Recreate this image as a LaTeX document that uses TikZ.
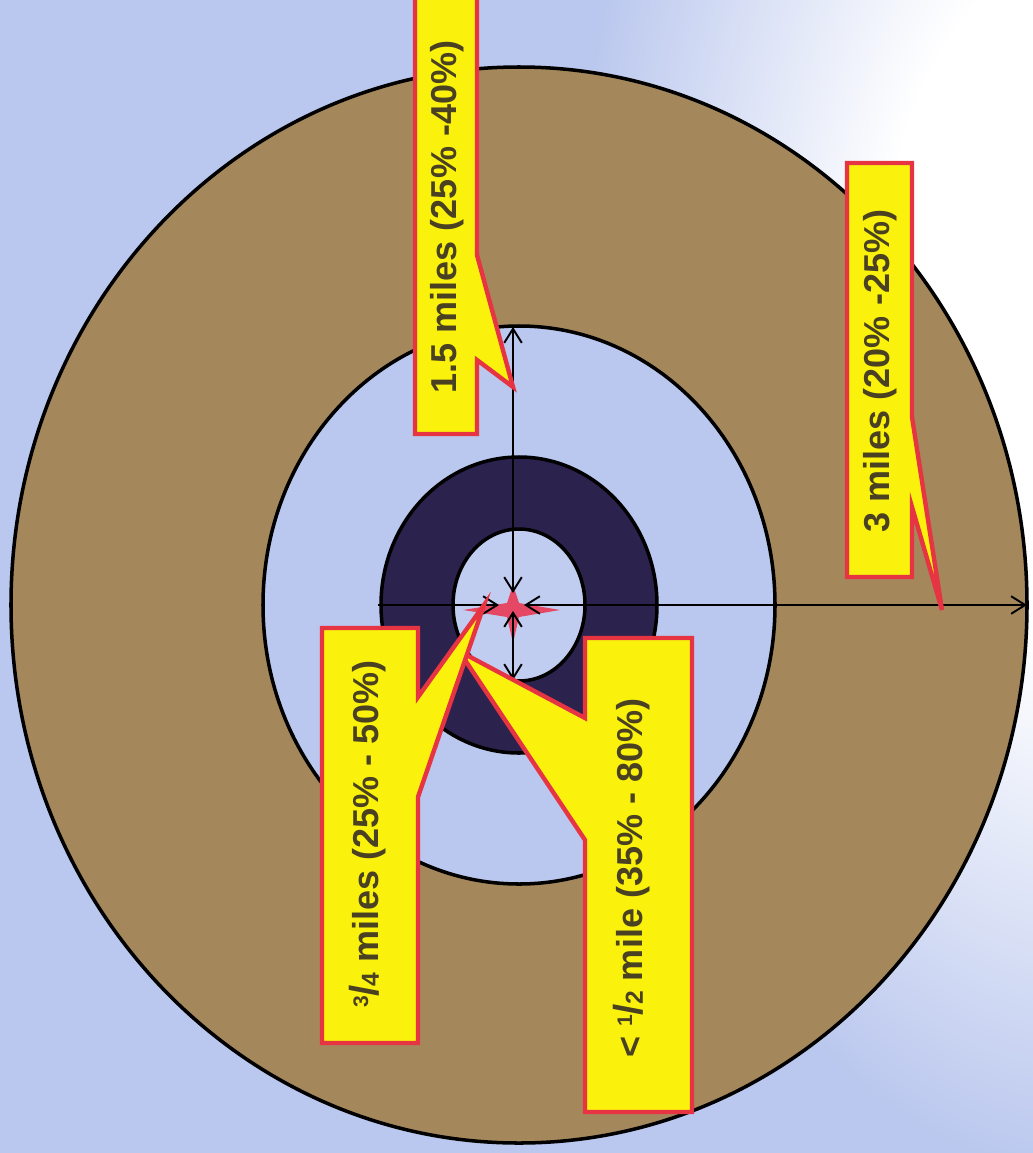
\documentclass[tikz,border=0pt]{standalone}
\usepackage{fontspec}
\setmainfont{Liberation Sans}
\usetikzlibrary{arrows.meta}

\definecolor{bgblue}{RGB}{186,199,238}
\definecolor{ringbrown}{RGB}{165,135,92}
\definecolor{ringnavy}{RGB}{44,34,78}
\definecolor{tagyellow}{RGB}{250,242,12}
\definecolor{tagred}{RGB}{230,52,66}
\definecolor{starred}{RGB}{228,72,100}
\definecolor{tagtext}{RGB}{74,64,34}

\pgfdeclareradialshading{glow}{\pgfpointorigin}{color(0bp)=(white); color(10bp)=(white); color(25bp)=(bgblue); color(50bp)=(bgblue)}

\newcommand\tagfrac[2]{\raisebox{0.3em}{\fontsize{12}{12}\selectfont #1}\kern-0.02em{\fontsize{23}{23}\selectfont/}\kern-0.02em{\fontsize{14}{14}\selectfont #2}}

\tikzset{
  ring/.style={draw=black,line width=2pt},
  tag/.style={fill=tagyellow,draw=tagred,line width=2.5pt,line join=miter},
  taglabel/.style={rotate=90,inner sep=0pt,text=tagtext,
    font=\bfseries\fontsize{20.5}{24}\selectfont}
}

\begin{document}
\begin{tikzpicture}[x=0.02cm,y=-0.02cm,>={Straight Barb[length=8pt,width=10pt]}]
\useasboundingbox (0,0) rectangle (1033,1153);
\fill[bgblue] (0,0) rectangle (1033,1153);
\begin{scope}
\clip (0,0) rectangle (1033,1153);
\shade[shading=glow] (1090,300) ellipse (520 and 880);
\end{scope}

\coordinate (mid) at (519,605);
\coordinate (c) at (513,605);

\draw[ring,fill=ringbrown] (mid) ellipse (508 and 538);
\draw[ring,fill=bgblue] (mid) ellipse (256 and 279);
\draw[ring,fill=ringnavy] (mid) ellipse (138 and 148);
\draw[ring,fill=bgblue!90!white] (mid) ellipse (66 and 76);

\fill[starred] (513,585) -- (519,603) -- (560,610) -- (519,617) -- (513,643)
  -- (507,617) -- (463,610) -- (507,603) -- cycle;

\coordinate (topend) at (513,327);
\coordinate (leftend) at (378,605);
\coordinate (rightend) at (1027,605);
\coordinate (botend) at (513,680);
\draw[line width=1.1pt,->] (leftend) -- (499,605);
\draw[line width=1.1pt,<->] (513,593) -- (topend);
\draw[line width=1.1pt,<->] (524,605) -- (rightend);
\draw[line width=1.1pt,<->] (513,611) -- (botend);

\draw[tag] (415,-10) -- (477,-10) -- (477,255) -- (513,387) -- (477,360)
  -- (477,434) -- (415,434) -- cycle;
\draw[tag] (847,163) -- (912,163) -- (912,417) -- (942,610) -- (912,507)
  -- (912,577) -- (847,577) -- cycle;
\draw[tag] (585,638) -- (692,638) -- (692,1112) -- (585,1112) -- (585,840)
  -- (459,651) -- (585,718) -- cycle;
\draw[tag] (322,628) -- (418,628) -- (418,697) -- (484,605) -- (418,797)
  -- (418,1043) -- (322,1043) -- cycle;

\node[taglabel] (mid15) at (447,217) {1.5 miles (25\% -40\%)};
\node[taglabel] (far3) at (880,371) {3 miles (20\% -25\%)};
\node[taglabel] (near34) at (368,834) {\tagfrac{3}{4} miles (25\% - 50\%)};
\node[taglabel] (core12) at (632,878) {< \tagfrac{1}{2} mile (35\% - 80\%)};
\end{tikzpicture}
\end{document}
